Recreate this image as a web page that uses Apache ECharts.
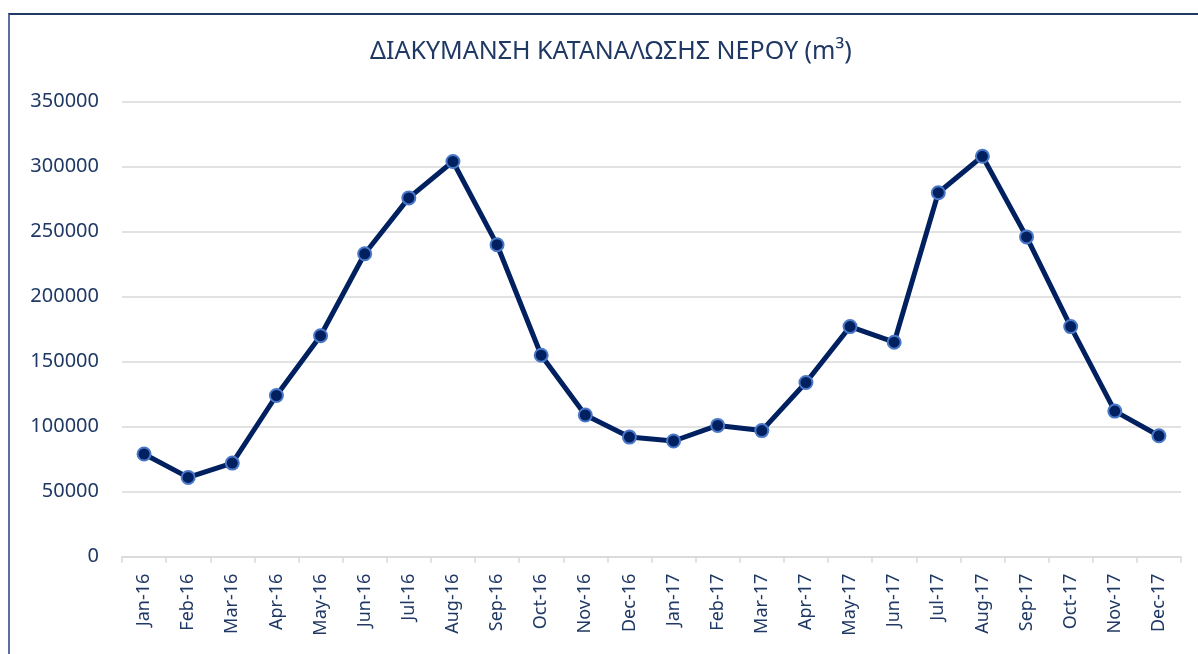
<!DOCTYPE html>
<html>
<head>
<meta charset="utf-8">
<script src="https://cdn.jsdelivr.net/npm/echarts@6/dist/echarts.min.js"></script>
<style>
  html, body { margin: 0; padding: 0; background: #fff; }
  #main { position: absolute; left: 0; top: 0; width: 1198px; height: 654px; }
  #frame {
    position: absolute; left: 8px; top: 13px; width: 1300px; height: 800px;
    border-top: 2px solid #1f3864; border-left: 2px solid #5b6f9f;
    pointer-events: none;
  }
</style>
</head>
<body>
<div id="main"></div>
<div id="frame"></div>
<script>
// months on the x axis
var months = ['Jan-16', 'Feb-16', 'Mar-16', 'Apr-16', 'May-16', 'Jun-16', 'Jul-16', 'Aug-16',
  'Sep-16', 'Oct-16', 'Nov-16', 'Dec-16', 'Jan-17', 'Feb-17', 'Mar-17', 'Apr-17',
  'May-17', 'Jun-17', 'Jul-17', 'Aug-17', 'Sep-17', 'Oct-17', 'Nov-17', 'Dec-17'];

// water consumption (m3)
var consumption = [79000, 61000, 72000, 124000, 170000, 233000, 276000, 304000,
  240000, 155000, 109000, 92000, 89000, 101000, 97000, 134000,
  177000, 165000, 280000, 308000, 246000, 177000, 112000, 93000];

var yMin = 0, yMax = 350000, yStep = 50000;

var chart = echarts.init(document.getElementById('main'), null, { renderer: 'canvas' });

var textColor = '#1f3864';
var font = 'Noto Sans';

var option = {
  animation: false,
  title: {
    text: 'ΔΙΑΚΥΜΑΝΣΗ ΚΑΤΑΝΑΛΩΣΗΣ ΝΕΡΟΥ (m³)',
    left: 365,
    top: 34,
    textStyle: { color: textColor, fontFamily: font, fontSize: 25, fontWeight: 'normal' }
  },
  grid: {
    left: 122,
    right: 17,
    top: 101.7,
    bottom: 97.3
  },
  xAxis: {
    type: 'category',
    data: months,
    boundaryGap: true,
    axisLine: { lineStyle: { color: '#d9d9d9', width: 1.5 } },
    axisTick: { show: true, length: 6, lineStyle: { color: '#d9d9d9', width: 1.5 } },
    axisLabel: {
      rotate: 90,
      interval: 0,
      margin: 17,
      color: textColor,
      fontFamily: font,
      fontSize: 18
    }
  },
  yAxis: {
    type: 'value',
    min: yMin,
    max: yMax,
    interval: yStep,
    axisLine: { show: false },
    axisTick: { show: false },
    splitLine: { lineStyle: { color: '#d9d9d9', width: 1.5 } },
    axisLabel: {
      margin: 23,
      color: textColor,
      fontFamily: font,
      fontSize: 20,
      formatter: function (v) { return String(v); }
    }
  },
  series: [
    {
      name: 'consumption',
      type: 'line',
      data: consumption,
      symbol: 'circle',
      symbolSize: 13,
      lineStyle: { color: '#002060', width: 5 },
      itemStyle: { color: '#002060', borderColor: '#4a78c8', borderWidth: 2 }
    }
  ]
};

chart.setOption(option);
</script>
</body>
</html>
